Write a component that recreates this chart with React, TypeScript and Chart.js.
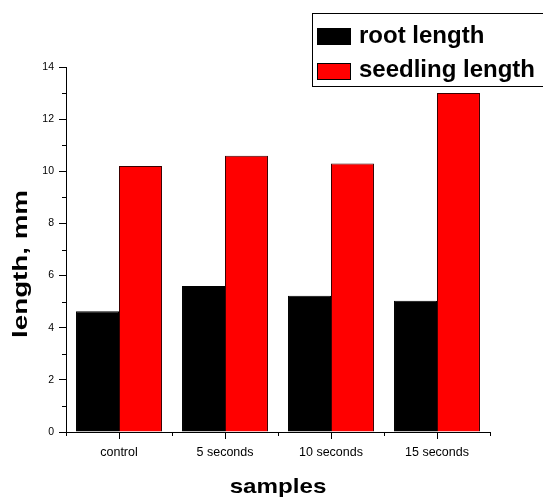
import React, { useEffect, useRef } from "react";
import { Chart, registerables } from "chart.js";

Chart.register(...registerables);

const categories = ["control", "5 seconds", "10 seconds", "15 seconds"];
const rootLength = [4.63, 5.6, 5.23, 5.03];
const seedlingLength = [10.2, 10.6, 10.3, 13.0];
const seriesNames = ["root length", "seedling length"];
const seriesColors = ["#000000", "#ff0000"];
const xTitle = "samples";
const yTitle = "length, mm";
const yMin = 0;
const yMax = 14;
const yStep = 2;

const FONT = "Arial, 'Liberation Sans', sans-serif";

const decorPlugin = {
  id: "decor",
  afterDraw(chart: any) {
    const ctx = chart.ctx;
    const xs = chart.scales.x;
    const ys = chart.scales.y;
    const area = chart.chartArea;
    ctx.save();
    ctx.strokeStyle = "#000";
    ctx.lineWidth = 1;
    // y minor ticks
    for (let v = yMin + yStep / 2; v < yMax; v += yStep) {
      const y = Math.round(ys.getPixelForValue(v)) + 0.5;
      ctx.beginPath();
      ctx.moveTo(area.left - 4, y);
      ctx.lineTo(area.left, y);
      ctx.stroke();
    }
    // x minor ticks at category boundaries
    for (let i = 0; i <= categories.length; i++) {
      const x = Math.round(xs.getPixelForValue(i - 0.5)) + 0.5;
      ctx.beginPath();
      ctx.moveTo(x, area.bottom);
      ctx.lineTo(x, area.bottom + 4);
      ctx.stroke();
    }
    // x title
    ctx.fillStyle = "#000";
    ctx.textAlign = "center";
    ctx.textBaseline = "middle";
    ctx.save();
    ctx.translate((area.left + area.right) / 2, 487);
    ctx.scale(1.15, 1);
    ctx.font = `bold 21px ${FONT}`;
    ctx.fillText(xTitle, 0, 0);
    ctx.restore();
    // y title
    ctx.save();
    ctx.translate(21, 264);
    ctx.rotate(-Math.PI / 2);
    ctx.scale(1.32, 1);
    ctx.font = `bold 21px ${FONT}`;
    ctx.fillText(yTitle, 0, 0);
    ctx.restore();
    // legend
    ctx.fillStyle = "#fff";
    ctx.fillRect(312, 13, 240, 73);
    ctx.strokeStyle = "#000";
    ctx.strokeRect(312.5, 13.5, 240, 73);
    const swY = [28, 63];
    const txtY = [43, 77];
    for (let i = 0; i < seriesNames.length; i++) {
      ctx.fillStyle = seriesColors[i];
      ctx.fillRect(317, swY[i], 34, 17);
      ctx.strokeStyle = "#000";
      ctx.strokeRect(317.5, swY[i] + 0.5, 33, 16);
      ctx.fillStyle = "#000";
      ctx.textAlign = "left";
      ctx.textBaseline = "alphabetic";
      ctx.font = `bold 24px ${FONT}`;
      ctx.fillText(seriesNames[i], 359, txtY[i]);
    }
    ctx.restore();
  },
};

export default function App() {
  const ref = useRef<HTMLCanvasElement | null>(null);
  useEffect(() => {
    if (!ref.current) return;
    const chart = new Chart(ref.current, {
      type: "bar",
      data: {
        labels: categories,
        datasets: [
          {
            label: seriesNames[0],
            data: rootLength,
            backgroundColor: seriesColors[0],
            borderColor: "#000",
            borderWidth: 1,
            categoryPercentage: 0.811,
            barPercentage: 1,
          },
          {
            label: seriesNames[1],
            data: seedlingLength,
            backgroundColor: seriesColors[1],
            borderColor: "#3a0000",
            borderWidth: 1,
            categoryPercentage: 0.811,
            barPercentage: 1,
          },
        ],
      },
      options: {
        responsive: false,
        animation: false,
        devicePixelRatio: 1,
        layout: { padding: { left: 0, right: 53, top: 67, bottom: 0 } },
        plugins: { legend: { display: false }, tooltip: { enabled: false } },
        scales: {
          x: {
            afterFit: (s: any) => {
              s.height = 65;
            },
            grid: {
              display: true,
              drawOnChartArea: false,
              drawTicks: true,
              tickLength: 7,
              offset: false,
              color: "#000",
            },
            border: { display: true, color: "#000", width: 1 },
            ticks: {
              color: "#000",
              font: { family: FONT, size: 12.5 },
              padding: 6,
              maxRotation: 0,
            },
          },
          y: {
            min: yMin,
            max: yMax,
            afterFit: (s: any) => {
              s.width = 66;
            },
            grid: {
              display: true,
              drawOnChartArea: false,
              drawTicks: true,
              tickLength: 7,
              color: "#000",
            },
            border: { display: true, color: "#000", width: 1 },
            ticks: {
              stepSize: yStep,
              color: "#000",
              font: { family: FONT, size: 10.5 },
              padding: 5,
            },
          },
        },
      },
      plugins: [decorPlugin],
    });
    return () => chart.destroy();
  }, []);
  return (
    <div style={{ position: "fixed", left: 0, top: 0, width: 543, height: 497, background: "#fff" }}>
      <canvas ref={ref} width={543} height={497} style={{ display: "block" }} />
    </div>
  );
}
